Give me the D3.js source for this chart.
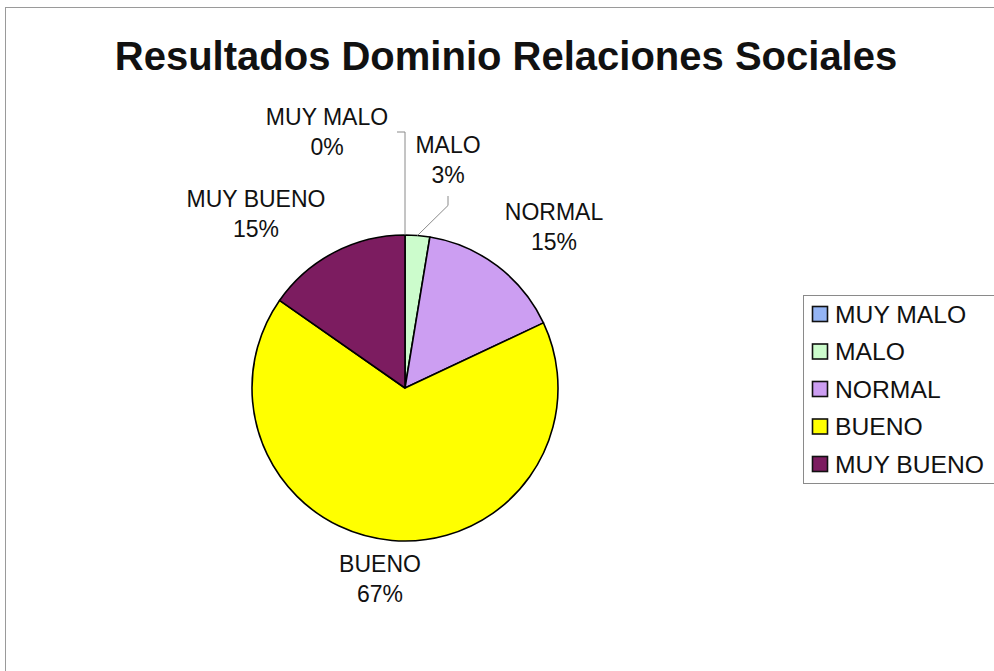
<!DOCTYPE html>
<html>
<head>
<meta charset="utf-8">
<script src="https://cdn.jsdelivr.net/npm/d3@7/dist/d3.min.js"></script>
<style>
  html, body { margin: 0; padding: 0; background: #fff; }
  svg { display: block; }
  text { font-family: "Liberation Sans", Arial, sans-serif; fill: #111; }
</style>
</head>
<body>
<svg id="chart" width="994" height="671"></svg>
<script>
// ---- data ----
const categories = ["MUY MALO", "MALO", "NORMAL", "BUENO", "MUY BUENO"];
const values = [0, 2.6, 15.4, 66.7, 15.3];          // percent of respondents
const percentLabels = ["0%", "3%", "15%", "67%", "15%"];
const colors = ["#94b4f4", "#ccfccc", "#cc9ef2", "#ffff00", "#7c1c60"];
const title = "Resultados Dominio Relaciones Sociales";

// ---- layout ----
const W = 994, H = 671;
const cx = 405, cy = 388, R = 153;
// label anchors (centre x, baseline of first line), per category
const labelLayout = {
  "MUY MALO":  { x: 327, y: 125 },
  "MALO":      { x: 448, y: 153 },
  "NORMAL":    { x: 554, y: 220 },
  "BUENO":     { x: 380, y: 572 },
  "MUY BUENO": { x: 256, y: 207 }
};
const lineGap = 30;

const svg = d3.select("#chart");

// outer frame
svg.append("rect")
  .attr("x", 5.5).attr("y", 7.5)
  .attr("width", 1000).attr("height", 700)
  .attr("fill", "#fff").attr("stroke", "#9a9a9a").attr("stroke-width", 1);

// title
svg.append("text")
  .attr("x", 506).attr("y", 70)
  .attr("text-anchor", "middle")
  .style("font-size", "40px").style("font-weight", "bold")
  .text(title);

// pie
const data = categories.map((c, i) => ({ cat: c, value: values[i], label: percentLabels[i], color: colors[i] }));
const pie = d3.pie().sort(null).value(d => d.value);
const arcs = pie(data);
const arc = d3.arc().innerRadius(0).outerRadius(R);

const g = svg.append("g").attr("transform", `translate(${cx},${cy})`);
g.selectAll("path")
  .data(arcs.filter(a => a.data.value > 0))
  .join("path")
  .attr("d", arc)
  .attr("fill", d => d.data.color)
  .attr("stroke", "#000")
  .attr("stroke-width", 1.6)
  .attr("stroke-linejoin", "round");

// leader lines for the small slices
arcs.forEach(a => {
  const lab = labelLayout[a.data.cat];
  const mid = (a.startAngle + a.endAngle) / 2;
  const px = cx + R * Math.sin(mid), py = cy - R * Math.cos(mid);
  let pts = null;
  if (a.data.cat === "MUY MALO") {
    const yTop = lab.y + 7;
    pts = [[px, py], [px, yTop], [px - 8, yTop]];
  } else if (a.data.cat === "MALO") {
    const yTop = lab.y + lineGap + 13;
    pts = [[px, py], [lab.x, py - 30], [lab.x, yTop]];
  }
  if (pts) {
    svg.append("path")
      .attr("d", d3.line()(pts))
      .attr("fill", "none")
      .attr("stroke", "#8a8a8a")
      .attr("stroke-width", 1);
  }
});

// data labels
arcs.forEach(a => {
  const lab = labelLayout[a.data.cat];
  const t = svg.append("text")
    .attr("text-anchor", "middle")
    .style("font-size", "23px");
  t.append("tspan").attr("x", lab.x).attr("y", lab.y).text(a.data.cat);
  t.append("tspan").attr("x", lab.x).attr("y", lab.y + lineGap).text(a.data.label);
});

// legend
const lgX = 803, lgY = 295, lgH = 188, rowH = 37.5;
svg.append("rect")
  .attr("x", lgX + 0.5).attr("y", lgY + 0.5)
  .attr("width", 220).attr("height", lgH)
  .attr("fill", "#fff").attr("stroke", "#8a8a8a").attr("stroke-width", 1);
const lg = svg.append("g");
const items = lg.selectAll("g").data(data).join("g")
  .attr("transform", (d, i) => `translate(${lgX + 9},${lgY + 19 + i * rowH})`);
items.append("rect")
  .attr("x", 0.5).attr("y", -7.5).attr("width", 15).attr("height", 15)
  .attr("fill", d => d.color).attr("stroke", "#111").attr("stroke-width", 1.6);
items.append("text")
  .attr("x", 23).attr("y", 8.5)
  .style("font-size", "24.7px")
  .text(d => d.cat);
</script>
</body>
</html>
